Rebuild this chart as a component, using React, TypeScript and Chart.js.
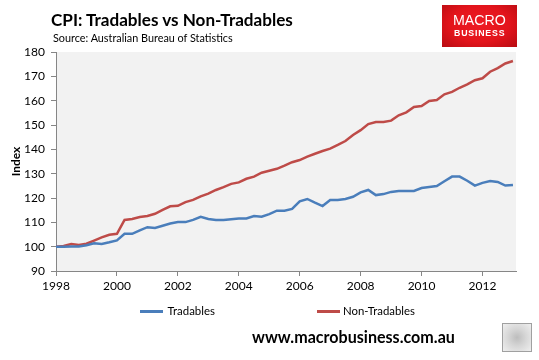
import React, { useEffect, useLayoutEffect, useRef, useState } from "react";
import { Chart, registerables } from "chart.js";

Chart.register(...registerables);

const startYear = 1998;
const pointsPerYear = 4;

const tradables = [
  100.0, 100.0, 100.1, 100.1, 100.6, 101.4, 101.1, 101.8, 102.6, 105.3,
  105.3, 106.7, 108.0, 107.7, 108.6, 109.5, 110.1, 110.1, 111.0, 112.3,
  111.4, 111.0, 111.0, 111.3, 111.6, 111.6, 112.6, 112.3, 113.4, 114.8,
  114.8, 115.5, 118.6, 119.6, 118.1, 116.7, 119.2, 119.2, 119.6, 120.5,
  122.3, 123.3, 121.2, 121.6, 122.5, 122.9, 122.9, 122.9, 124.1, 124.5,
  124.9, 126.9, 128.8, 128.8, 127.1, 125.1, 126.2, 127.0, 126.6, 125.1,
  125.3,
];

const nonTradables = [
  100.0, 100.3, 101.1, 100.7, 101.2, 102.5, 103.8, 104.9, 105.3, 111.0,
  111.4, 112.2, 112.6, 113.5, 115.1, 116.6, 116.8, 118.3, 119.2, 120.7,
  121.8, 123.3, 124.5, 125.8, 126.4, 127.9, 128.8, 130.4, 131.2, 132.0,
  133.3, 134.7, 135.6, 137.0, 138.2, 139.3, 140.3, 141.8, 143.4, 145.9,
  147.9, 150.4, 151.2, 151.2, 151.8, 154.0, 155.2, 157.4, 157.8, 159.9,
  160.3, 162.6, 163.6, 165.3, 166.7, 168.4, 169.2, 171.9, 173.4, 175.3,
  176.3,
];

const xTickYears = [1998, 2000, 2002, 2004, 2006, 2008, 2010, 2012];
const yMin = 90;
const yMax = 180;
const yStep = 10;
const xMin = 1998;
const xMax = 2013.1;

const seriesNames = ["Tradables", "Non-Tradables"];
const seriesColors = ["#4a7ebb", "#be4b48"];

const FONT = "Lato, 'Open Sans', sans-serif";

const toPoints = (vals: number[]) =>
  vals.map((v, i) => ({ x: startYear + i / pointsPerYear, y: v }));

const plotBg = {
  id: "plotBg",
  beforeDraw(chart: any) {
    const { ctx, chartArea } = chart;
    ctx.save();
    ctx.fillStyle = "#f2f2f2";
    ctx.fillRect(
      chartArea.left,
      chartArea.top,
      chartArea.right - chartArea.left,
      chartArea.bottom - chartArea.top
    );
    ctx.restore();
  },
};

function FitText(props: {
  text: string;
  left: number;
  centerY: number;
  width: number;
  base: number;
  weight?: number;
  color?: string;
  family?: string;
  spacing?: number;
}) {
  const ref = useRef<HTMLSpanElement | null>(null);
  const [size, setSize] = useState(props.base);
  useLayoutEffect(() => {
    if (!ref.current) return;
    const w = ref.current.getBoundingClientRect().width;
    if (w > 0) setSize((props.base * props.width) / w);
  }, []);
  return (
    <span
      ref={ref}
      style={{
        position: "absolute",
        left: props.left,
        top: props.centerY - size * 0.6,
        fontSize: size,
        lineHeight: `${size * 1.2}px`,
        fontWeight: props.weight ?? 400,
        color: props.color ?? "#000",
        fontFamily: props.family ?? FONT,
        letterSpacing: props.spacing ?? 0,
        whiteSpace: "nowrap",
      }}
    >
      {props.text}
    </span>
  );
}

export default function App() {
  const ref = useRef<HTMLCanvasElement | null>(null);

  useEffect(() => {
    if (!ref.current) return;
    const chart = new Chart(ref.current, {
      type: "line",
      data: {
        datasets: [
          {
            label: seriesNames[0],
            data: toPoints(tradables),
            borderColor: seriesColors[0],
            backgroundColor: seriesColors[0],
            borderWidth: 2.5,
            pointRadius: 0,
            tension: 0,
          },
          {
            label: seriesNames[1],
            data: toPoints(nonTradables),
            borderColor: seriesColors[1],
            backgroundColor: seriesColors[1],
            borderWidth: 2.5,
            pointRadius: 0,
            tension: 0,
          },
        ],
      },
      options: {
        responsive: false,
        animation: false,
        devicePixelRatio: 1,
        layout: { padding: { left: 0, right: 23, top: 52, bottom: 59 } },
        plugins: {
          legend: { display: false },
          tooltip: { enabled: false },
          title: { display: false },
        },
        scales: {
          x: {
            type: "linear",
            min: xMin,
            max: xMax,
            afterBuildTicks: (scale: any) => {
              scale.ticks = xTickYears.map((v) => ({ value: v }));
            },
            afterFit: (scale: any) => {
              scale.height = 30;
            },
            ticks: {
              callback: (v: any) => String(v),
              color: "#000",
              font: { family: FONT, size: 12 },
              padding: 3,
              maxRotation: 0,
              autoSkip: false,
            },
            grid: {
              display: true,
              drawOnChartArea: false,
              drawTicks: true,
              tickLength: 5,
              color: "#868686",
            },
            border: { display: true, color: "#868686", width: 1 },
          },
          y: {
            type: "linear",
            min: yMin,
            max: yMax,
            afterFit: (scale: any) => {
              scale.width = 56;
            },
            ticks: {
              stepSize: yStep,
              color: "#000",
              font: { family: FONT, size: 12 },
              padding: 6,
            },
            title: {
              display: true,
              text: "Index",
              color: "#000",
              font: { family: FONT, size: 12, weight: "bold" },
              padding: { top: 9, bottom: 0 },
            },
            grid: {
              display: true,
              drawOnChartArea: false,
              drawTicks: true,
              tickLength: 5,
              color: "#868686",
            },
            border: { display: true, color: "#868686", width: 1 },
          },
        },
      },
      plugins: [plotBg],
    });
    return () => chart.destroy();
  }, []);

  return (
    <div
      style={{
        position: "absolute",
        left: 0,
        top: 0,
        width: 539,
        height: 360,
        background: "#fff",
        fontFamily: FONT,
        overflow: "hidden",
      }}
    >
      <canvas
        ref={ref}
        width={539}
        height={360}
        style={{ position: "absolute", left: 0, top: 0, width: 539, height: 360 }}
      />
      <FitText text="CPI: Tradables vs Non-Tradables" left={51} centerY={20} width={242} base={18} weight={700} />
      <FitText text="Source: Australian Bureau of Statistics" left={53} centerY={37.5} width={180} base={11} />
      <div
        style={{
          position: "absolute",
          left: 442,
          top: 5,
          width: 75,
          height: 42,
          background:
            "radial-gradient(ellipse at 50% 45%, #ee1c24 0%, #e3141b 55%, #b70c12 100%)",
        }}
      />
      <FitText text="MACRO" left={453} centerY={21} width={53} base={15} color="#fff" family="'Liberation Sans', Arial, sans-serif" />
      <FitText text="BUSINESS" left={454} centerY={33.5} width={52} base={8} weight={700} color="#fff" spacing={0.8} family="'Liberation Sans', Arial, sans-serif" />
      <div style={{ position: "absolute", left: 140, top: 310, width: 23, height: 2.5, background: seriesColors[0] }} />
      <FitText text={seriesNames[0]} left={167.5} centerY={311} width={47.5} base={12} />
      <div style={{ position: "absolute", left: 317, top: 310, width: 23, height: 2.5, background: seriesColors[1] }} />
      <FitText text={seriesNames[1]} left={343} centerY={311} width={72} base={12} />
      <FitText text="www.macrobusiness.com.au" left={252} centerY={337} width={203} base={14} weight={700} />
      <div
        style={{
          position: "absolute",
          left: 502,
          top: 323,
          width: 28,
          height: 27,
          border: "1px solid #a0a0a0",
          background: "radial-gradient(circle at 50% 50%, #bdbdbd 0%, #d6d6d6 45%, #efefef 100%)",
        }}
      />
    </div>
  );
}
